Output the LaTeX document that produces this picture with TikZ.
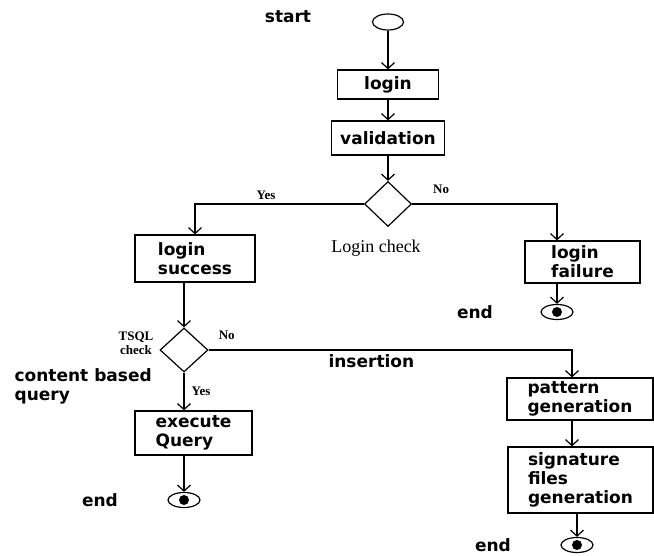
\documentclass[tikz,border=0pt]{standalone}
\usepackage{fontspec}
\setmainfont{Liberation Serif}
\setsansfont{DejaVu Sans}
\usepackage{tikz}
\usetikzlibrary{shapes.geometric,arrows.meta}

\newcommand{\boxfnt}{\sffamily\bfseries\fontsize{17}{19}\selectfont}
\tikzset{
  act/.style={draw, rectangle, align=left, font=\boxfnt, inner sep=0pt},
  txt/.style={font=\boxfnt, inner sep=1pt},
  ynl/.style={font=\bfseries\fontsize{13}{14}\selectfont, inner sep=1pt},
  chk/.style={font=\fontsize{18}{20}\selectfont, inner sep=1pt},
  dec/.style={draw, diamond, minimum width=47pt, minimum height=45pt, inner sep=0pt},
  startsym/.style={draw, ellipse, minimum width=31pt, minimum height=16pt, inner sep=0pt},
  endsym/.style={draw, ellipse, minimum width=32pt, minimum height=15pt, inner sep=0pt,
    path picture={\fill (path picture bounding box.center) circle (5pt);}}
}

\begin{document}
\begin{tikzpicture}[x=1pt, y=-1pt, line width=1.2pt, >={Straight Barb[length=6pt,width=13pt]}]
\useasboundingbox (0,0) rectangle (654,556);
\draw (388,22) node[startsym](st){}
    (388,84.5) node[act, minimum width=101pt, minimum height=29pt](lg){login}
    (388,138) node[act, minimum width=113pt, minimum height=34pt](vd){validation}
    (388,204) node[dec](lc){}
    (195,258.5) node[act, minimum width=120pt, minimum height=47pt](ls){login\\success}
    (582.5,262) node[act, minimum width=115pt, minimum height=42pt](lf){login\\failure}
    (557,312) node[endsym](e1){}
    (184,350) node[dec, minimum width=48pt, minimum height=44pt](ts){}
    (193.5,433) node[act, minimum width=117pt, minimum height=44pt](eq){execute\\Query}
    (184,500) node[endsym](e2){}
    (580,399) node[act, minimum width=146pt, minimum height=42pt](pg){pattern\\generation}
    (580.5,480) node[act, minimum width=145pt, minimum height=66pt](sg){signature\\files\\generation}
    (577,545) node[endsym](e3){};
\draw (288,17) node[txt](t1){start}
    (475,312) node[txt](t2){end}
    (100,500) node[txt](t3){end}
    (493,545) node[txt](t4){end}
    (13,386) node[txt, anchor=west, align=left](t5){content based\\query}
    (376,248) node[chk](t6){Login check}
    (136,343) node[ynl, align=center](t7){TSQL\\check};
    \draw [->] (st) -- (lg);
    \draw [->] (lg) -- (vd);
    \draw [->] (vd) -- (lc);
    \draw [->] (lc.west) -| (ls.north) node[pos=0.29, above=3pt, ynl] {Yes};
    \draw [->] (lc.east) -| ([xshift=-25.5pt]lf.north) node[pos=0.1, above=9pt, ynl] {No};
    \draw [->] (e1 |- lf.south) -- (e1);
    \draw [->] (ls.south -| ts) -- (ts);
    \draw [->] (ts.east) -| ([xshift=-8pt]pg.north) node[pos=0.025, above=9pt, ynl] {No}
        node[pos=0.224, below=3pt, txt] {insertion};
    \draw [->] (ts) -- (ts |- eq.north) node[midway, right=6pt, ynl] {Yes};
    \draw [->] (eq.south -| e2) -- (e2);
    \draw [->] ([xshift=-8pt]pg.south) -- ([xshift=-8pt]pg.south |- sg.north);
    \draw [->] (e3 |- sg.south) -- (e3);
\end{tikzpicture}
\end{document}
